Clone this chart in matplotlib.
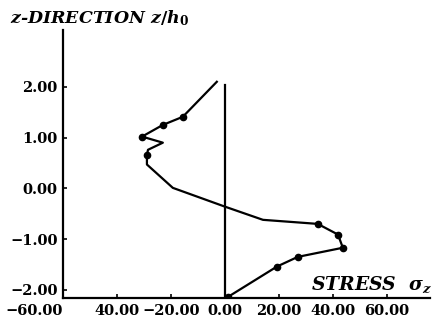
import matplotlib
matplotlib.use('Agg')
import matplotlib.pyplot as plt

# stress profile
stress = [-3.0, -15.6, -23.0, -30.7, -23.0, -28.5, -28.9, -28.9, -19.3, 0.0,
          14.1, 34.4, 41.9, 43.7, 27.0, 19.3, 1.1]
z_pos = [2.10, 1.41, 1.25, 1.02, 0.90, 0.76, 0.66, 0.47, 0.01, -0.36,
         -0.62, -0.70, -0.91, -1.17, -1.35, -1.54, -2.14]
dot_idx = [1, 2, 3, 6, 11, 12, 13, 14, 15, 16]

x_ticks = [-60, -40, -20, 0, 20, 40, 60]
x_labels = ['\u221260.00', '40.00', '\u221220.00', '0.00', '20.00', '40.00', '60.00']
y_ticks = [2, 1, 0, -1, -2]
y_labels = ['2.00', '1.00', '0.00', '\u22121.00', '\u22122.00']

plt.rcParams['font.family'] = 'DejaVu Serif'
plt.rcParams['font.weight'] = 'bold'
plt.rcParams['mathtext.fontset'] = 'custom'
plt.rcParams['mathtext.it'] = 'DejaVu Serif:italic:bold'
plt.rcParams['mathtext.rm'] = 'DejaVu Serif:bold'

fig = plt.figure(figsize=(4.43, 3.27), dpi=100)
ax = fig.add_axes([63 / 443, 1 - 298 / 327, (430 - 63) / 443, (298 - 30) / 327])

ax.plot(stress, z_pos, color='black', lw=1.6, marker='o', ms=4.5,
        markevery=dot_idx)
ax.plot([0, 0], [-2.16, 2.04], color='black', lw=1.6)

ax.set_xlim(-60, 76)
ax.set_ylim(-2.16, 3.12)

for s in ['top', 'right']:
    ax.spines[s].set_visible(False)
for s in ['left', 'bottom']:
    ax.spines[s].set_linewidth(1.6)

ax.set_xticks(x_ticks)
ax.set_xticklabels(x_labels, fontsize=10.5)
ax.set_yticks(y_ticks)
ax.set_yticklabels(y_labels, fontsize=10.5)
ax.tick_params(direction='in', length=3, width=1.2, pad=4)
ax.get_xticklabels()[0].set_horizontalalignment('right')

fig.text(10 / 443, 1 - 18 / 327, r'z-DIRECTION $z/h_0$', fontsize=12.5,
         style='italic', fontweight='bold', va='center')
fig.text(432 / 443, 1 - 285 / 327, r'STRESS  $\sigma_z$', fontsize=13.5,
         style='italic', fontweight='bold', va='center', ha='right')

fig.savefig('out.png', dpi=100)
